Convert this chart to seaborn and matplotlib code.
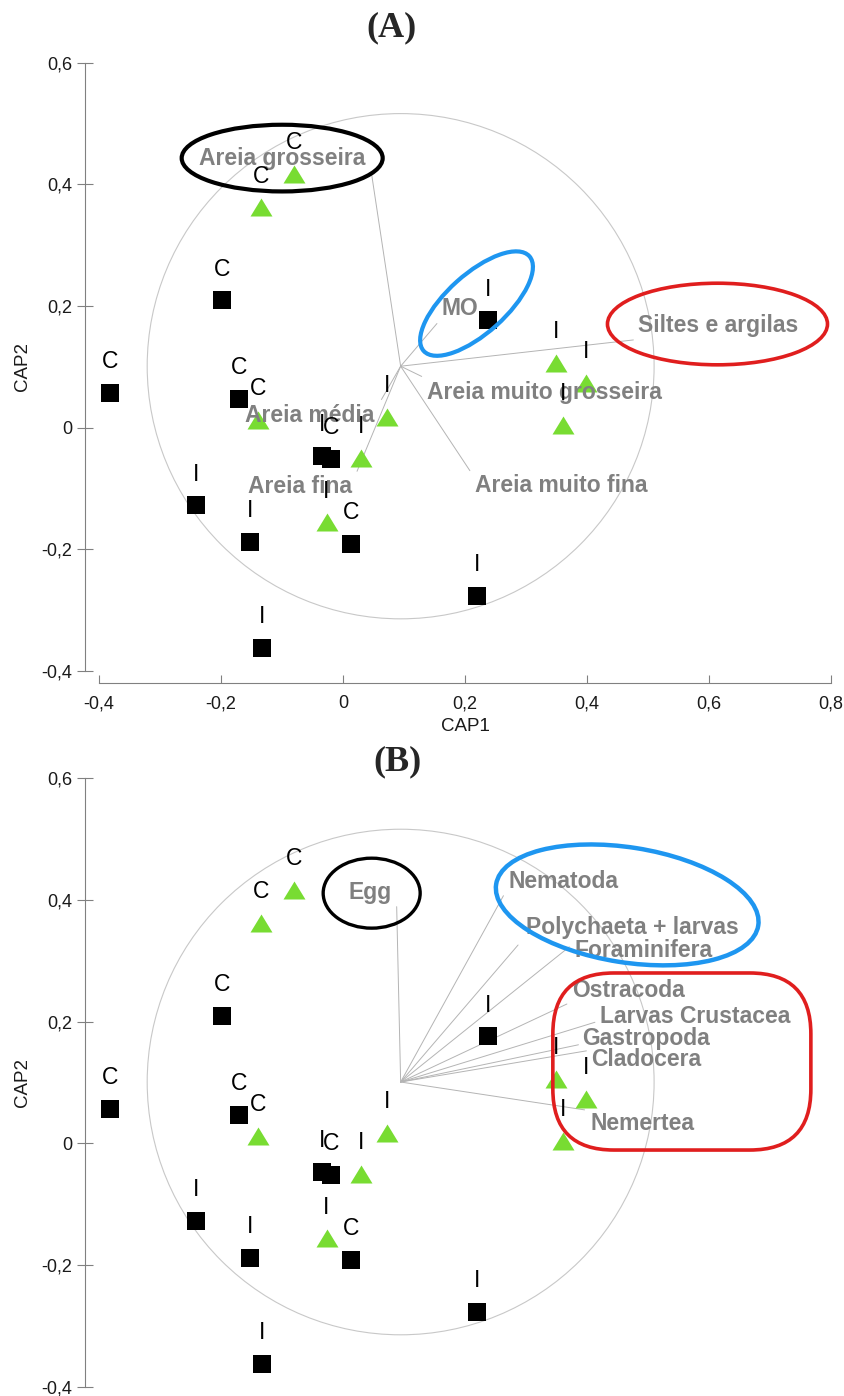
import numpy as np
import pandas as pd
import matplotlib
matplotlib.use('Agg')
import matplotlib.pyplot as plt
from matplotlib.path import Path
from matplotlib.patches import Ellipse, Circle, FancyBboxPatch
from matplotlib.ticker import FixedLocator, FuncFormatter
import seaborn as sns

sns.set_theme(style='white')
plt.rcParams['font.family'] = ['Liberation Sans', 'DejaVu Sans']

# sample scores (same in both panels)
sq_x = [-0.382, -0.170, -0.199, -0.035, -0.020, -0.241, -0.152, 0.013, -0.133, 0.237, 0.220]
sq_y = [0.057, 0.047, 0.209, -0.047, -0.052, -0.128, -0.188, -0.192, -0.363, 0.176, -0.277]
sq_lab = ['C', 'C', 'C', 'I', 'C', 'I', 'I', 'C', 'I', 'I', 'I']

tri_x = [-0.081, -0.134, -0.140, 0.072, 0.029, -0.027, 0.350, 0.398, 0.360]
tri_y = [0.417, 0.362, 0.012, 0.017, -0.050, -0.156, 0.106, 0.073, 0.004]
tri_lab = ['C', 'C', 'C', 'I', 'I', 'I', 'I', 'I', 'I']

# vector origin and correlation circle
origin = (0.0945, 0.1008)
circle_r = 0.4155

# (A) sediment vectors
env_names = ['Areia grosseira', 'MO', 'Siltes e argilas', 'Areia muito grosseira',
             'Areia muito fina', 'Areia média', 'Areia fina']
env_x = [0.047, 0.154, 0.476, 0.129, 0.208, 0.063, 0.023]
env_y = [0.416, 0.171, 0.144, 0.084, -0.071, 0.046, -0.072]
env_lab_x = [-0.099, 0.192, 0.615, 0.330, 0.358, -0.055, -0.070]
env_lab_y = [0.443, 0.195, 0.168, 0.058, -0.096, 0.019, -0.097]

# (B) taxa vectors
taxa_names = ['Egg', 'Nematoda', 'Polychaeta + larvas', 'Foraminifera', 'Ostracoda',
              'Larvas Crustacea', 'Gastropoda', 'Cladocera', 'Nemertea']
taxa_x = [0.088, 0.263, 0.287, 0.371, 0.367, 0.413, 0.386, 0.399, 0.396]
taxa_y = [0.389, 0.407, 0.326, 0.323, 0.229, 0.199, 0.162, 0.152, 0.055]
taxa_lab_x = [0.044, 0.361, 0.474, 0.492, 0.468, 0.577, 0.496, 0.497, 0.491]
taxa_lab_y = [0.413, 0.431, 0.354, 0.317, 0.251, 0.208, 0.172, 0.137, 0.032]

ticks_x = [-0.4, -0.2, 0, 0.2, 0.4, 0.6, 0.8]
ticks_y = [-0.4, -0.2, 0, 0.2, 0.4, 0.6]

# hand-drawn highlight ellipses: (cx, cy, width, height, angle, colour, lw)
GREEN = '#78DC32'
BLUE = '#1E96F0'
RED = '#E01E1E'
rings_a = [(-0.0997, 0.4431, 0.3295, 0.1097, 0, 'black', 3.0),
           (0.2189, 0.2038, 0.233, 0.097, 42, BLUE, 3.0),
           (0.6139, 0.1702, 0.3607, 0.1342, 0, RED, 2.6)]
rings_b = [(0.047, 0.4112, 0.159, 0.115, 0, 'black', 2.4),
           (0.4659, 0.3919, 0.435, 0.189, -9, BLUE, 3.2)]
box_b = (0.344, -0.011, 0.423, 0.291)

df = pd.DataFrame({
    'CAP1': sq_x + tri_x,
    'CAP2': sq_y + tri_y,
    'grupo': ['sq'] * len(sq_x) + ['tri'] * len(tri_x),
    'rotulo': sq_lab + tri_lab,
})

TRI = Path([(-1, -0.82), (1, -0.82), (0, 0.82), (-1, -0.82)],
           [Path.MOVETO, Path.LINETO, Path.LINETO, Path.CLOSEPOLY])

W, H = 845, 1396
fig = plt.figure(figsize=(W / 100, H / 100), dpi=100)
fmt = FuncFormatter(lambda v, p: ('%g' % round(v, 2)).replace('.', ','))


def setup_axes(ax, show_x=True):
    ax.set_xlim(-0.4, 0.8)
    ax.set_ylim(-0.4, 0.6)
    for s in ['top', 'right']:
        ax.spines[s].set_visible(False)
    ax.spines['left'].set_position(('outward', 10))
    ax.spines['bottom'].set_position(('outward', 9))
    for s in ['left', 'bottom']:
        ax.spines[s].set_color('#808080')
        ax.spines[s].set_linewidth(0.8)
    ax.xaxis.set_major_locator(FixedLocator(ticks_x))
    ax.yaxis.set_major_locator(FixedLocator(ticks_y))
    ax.xaxis.set_major_formatter(fmt)
    ax.yaxis.set_major_formatter(fmt)
    ax.tick_params(axis='y', left=True, direction='inout', length=12, width=0.8,
                   color='#808080', pad=3.4, labelsize=13, labelcolor='#1a1a1a')
    ax.tick_params(axis='x', bottom=True, direction='in', length=6, width=0.8,
                   color='#808080', pad=8.5, labelsize=13, labelcolor='#1a1a1a')
    ax.set_ylabel('CAP2', fontsize=13.5, color='#1a1a1a')
    ax.yaxis.set_label_coords(-0.1045, 0.5)
    ax.yaxis.label.set_va('center')
    if show_x:
        ax.set_xlabel('CAP1', fontsize=13.5, color='#1a1a1a')
        ax.xaxis.set_label_coords(0.5, -0.091)
        ax.xaxis.label.set_va('center')
    else:
        ax.set_xlabel('')
        ax.spines['bottom'].set_visible(False)
        ax.tick_params(axis='x', bottom=False, labelbottom=False)


def draw_vectors(ax, names, vx, vy, lx, ly):
    ax.add_patch(Circle(origin, circle_r, fill=False, ec='#c8c8c8', lw=0.8, zorder=1))
    for n, x, y, tx, ty in zip(names, vx, vy, lx, ly):
        ax.plot([origin[0], x], [origin[1], y], color='#b4b4b4', lw=0.7, zorder=1)
        ax.text(tx, ty, n, ha='center', va='center', fontsize=16.5, fontweight='bold',
                color='#808080', zorder=4)


def draw_points(ax):
    sns.scatterplot(data=df[df.grupo == 'sq'], x='CAP1', y='CAP2', marker='s', s=169,
                    color='black', linewidth=0, ax=ax, zorder=3, legend=False)
    sns.scatterplot(data=df[df.grupo == 'tri'], x='CAP1', y='CAP2', marker=TRI, s=250,
                    color=GREEN, linewidth=0, ax=ax, zorder=3, legend=False)
    for _, r in df.iterrows():
        ax.annotate(r.rotulo, (r.CAP1, r.CAP2), xytext=(0, 22.5), textcoords='offset points',
                    ha='center', va='center', fontsize=16.5, color='black', zorder=6)


def draw_rings(ax, rings):
    for cx, cy, w, h, ang, col, lw in rings:
        ax.add_patch(Ellipse((cx, cy), w, h, angle=ang, fill=False, ec=col, lw=lw,
                             zorder=7, clip_on=False))


# panel A
ax_a = fig.add_axes([99 / W, 1 - 670.7 / H, 732 / W, 608 / H])
draw_vectors(ax_a, env_names, env_x, env_y, env_lab_x, env_lab_y)
draw_points(ax_a)
draw_rings(ax_a, rings_a)
setup_axes(ax_a, show_x=True)

# panel B
ax_b = fig.add_axes([99 / W, 1 - 1386.7 / H, 732 / W, 608.4 / H])
draw_vectors(ax_b, taxa_names, taxa_x, taxa_y, taxa_lab_x, taxa_lab_y)
draw_points(ax_b)
draw_rings(ax_b, rings_b)
bx, by, bw, bh = box_b
ax_b.add_patch(FancyBboxPatch((bx, by), bw, bh, boxstyle='round,pad=0,rounding_size=0.1',
                              fill=False, ec=RED, lw=2.6, zorder=7, clip_on=False))
setup_axes(ax_b, show_x=False)

fig.text(392 / W, 1 - 28 / H, '(A)', ha='center', va='center', fontsize=26,
         fontweight='bold', family=['Liberation Serif', 'DejaVu Serif'])
fig.text(398 / W, 1 - 762 / H, '(B)', ha='center', va='center', fontsize=26,
         fontweight='bold', family=['Liberation Serif', 'DejaVu Serif'])

fig.savefig('out.png', dpi=100)
